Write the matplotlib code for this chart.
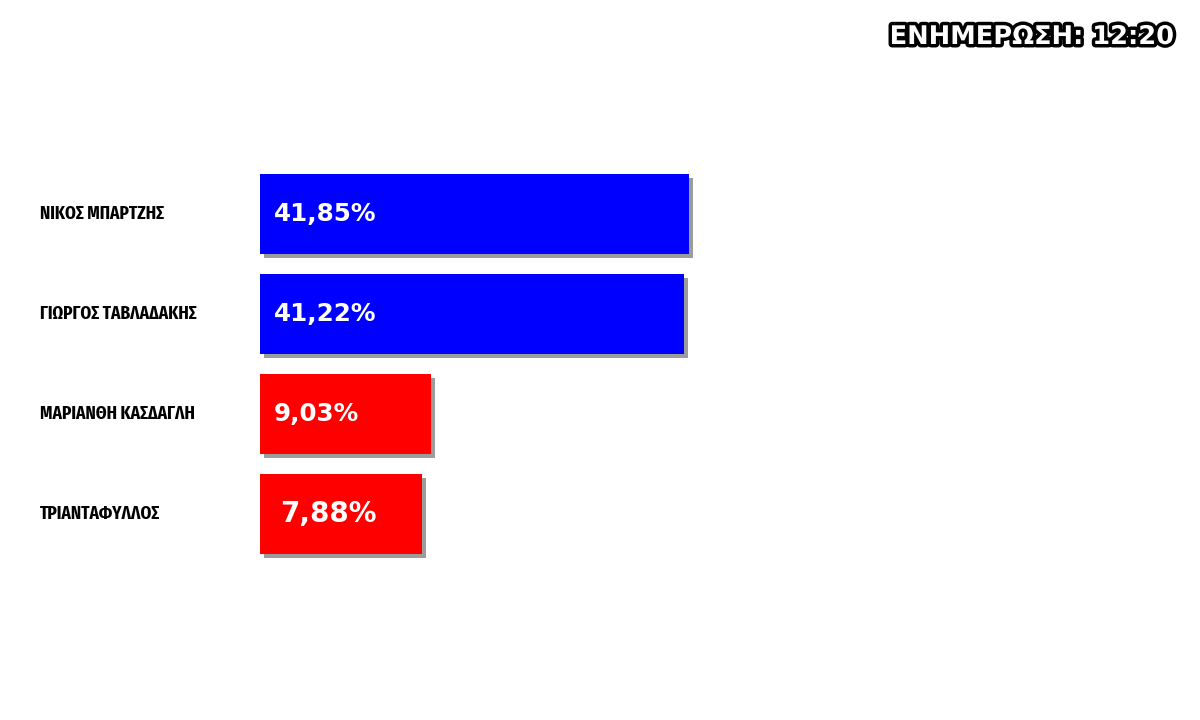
import matplotlib
matplotlib.use("Agg")
import matplotlib.pyplot as plt
import matplotlib.patheffects as pe

# Data
candidates = ["ΝΙΚΟΣ ΜΠΑΡΤΖΗΣ", "ΓΙΩΡΓΟΣ ΤΑΒΛΑΔΑΚΗΣ", "ΜΑΡΙΑΝΘΗ ΚΑΣΔΑΓΛΗ", "ΤΡΙΑΝΤΑΦΥΛΛΟΣ"]
percent = [41.85, 41.22, 9.03, 7.88]
labels = ["41,85%", "41,22%", "9,03%", "7,88%"]
colors = ["#0000ff", "#0000ff", "#ff0000", "#ff0000"]
update_text = "ΕΝΗΜΕΡΩΣΗ: 12:20"

# bars have a fixed minimum length added in front of the value
BASE = 12.7
PX_PER_PCT = 7.86

fig = plt.figure(figsize=(12, 7.2), dpi=100)
fig.patch.set_facecolor("white")

# axes starts where the bars start (x=260px) and spans full height
ax = fig.add_axes([260 / 1200, 0, 940 / 1200, 1])
ax.set_xlim(0, 940 / PX_PER_PCT)
ax.set_ylim(5.06, -2.14)
ax.axis("off")

ypos = list(range(len(candidates)))
widths = [BASE + v for v in percent]
bars = ax.barh(ypos, widths, height=0.8, color=colors, left=0)
for b in bars:
    b.set_path_effects([
        pe.SimplePatchShadow(offset=(3, -3), shadow_rgbFace="0.45", alpha=0.7),
        pe.Normal(),
    ])

label_size = [17.7, 17.7, 17.7, 20]
label_dx = [14, 14, 14, 20]
for y, lab, fs, dx in zip(ypos, labels, label_size, label_dx):
    ax.annotate(lab, xy=(0, y), xytext=(dx, 0), textcoords="offset pixels",
                ha="left", va="center", color="white", fontsize=fs,
                fontweight="bold", family=["DejaVu Sans"])

for y, name in zip(ypos, candidates):
    ax.annotate(name, xy=(0, y), xytext=(-220, 0), textcoords="offset pixels",
                ha="left", va="center", color="black", fontsize=13.5,
                fontweight="bold",
                family=["Fira Sans Extra Condensed", "DejaVu Sans"])

fig.text(1175 / 1200, 1 - 37 / 720, update_text, ha="right", va="center",
         color="white", fontsize=18.5, fontweight="bold",
         family=["DejaVu Sans"],
         path_effects=[pe.withStroke(linewidth=5, foreground="black")])

plt.savefig("out.png", dpi=100)
